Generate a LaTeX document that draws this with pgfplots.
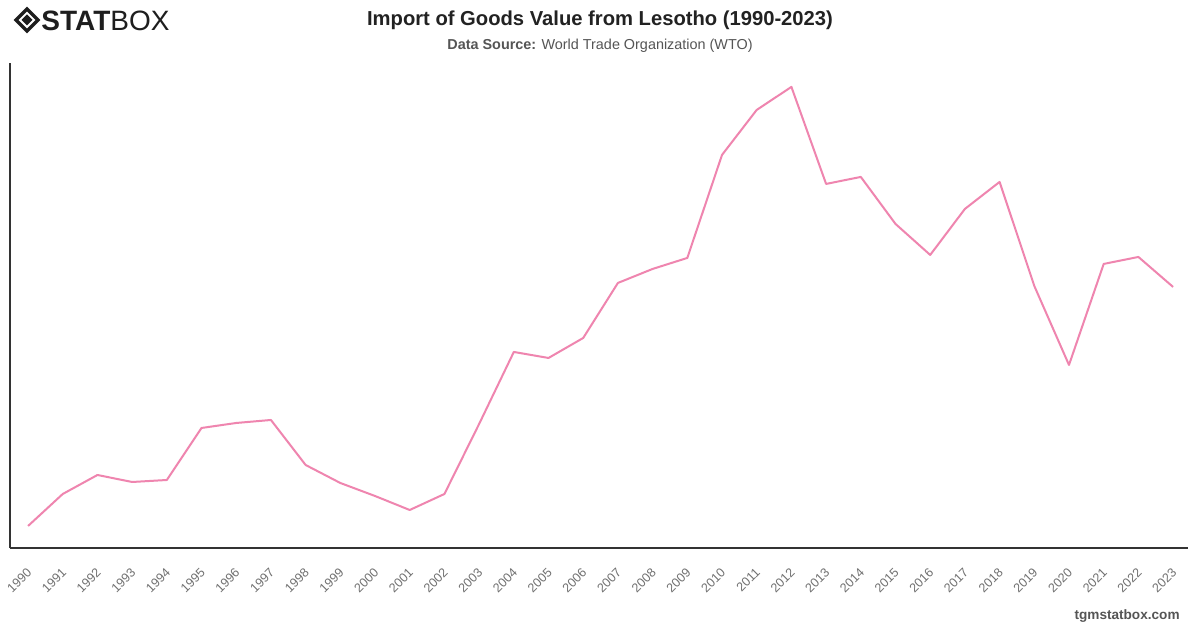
\documentclass[border=0pt]{standalone}
\usepackage{pgfplots}
\pgfplotsset{compat=1.18}
\usepackage{fontspec}
\setmainfont{Liberation Sans}
\definecolor{linepink}{HTML}{EF85AF}
\definecolor{axisdark}{HTML}{333333}
\definecolor{tickgray}{HTML}{707070}
\definecolor{titledark}{HTML}{222222}
\definecolor{subgray}{HTML}{555555}
\definecolor{logodark}{HTML}{1E1E1E}

\pgfplotstableread{
year value
1990 22
1991 54
1992 73
1993 66
1994 68
1995 120
1996 125
1997 128
1998 83
1999 65
2000 52
2001 38
2002 54
2003 124
2004 196
2005 190
2006 210
2007 265
2008 279
2009 290
2010 393
2011 438
2012 461
2013 364
2014 371
2015 324
2016 293
2017 339
2018 366
2019 262
2020 183
2021 284
2022 291
2023 261
}\importdata

\begin{document}
\begin{tikzpicture}[x=0.5pt,y=0.5pt]
\path[fill=white,use as bounding box] (0,0) rectangle (1200,628);

% logo
\begin{scope}[shift={(27,608)}]
  \draw[logodark,line width=1.6pt,line join=miter] (0,11) -- (11,0) -- (0,-11) -- (-11,0) -- cycle;
  \fill[logodark] (0,5.5) -- (5.5,0) -- (0,-5.5) -- (-5.5,0) -- cycle;
\end{scope}
\node[anchor=west,inner sep=0pt,text=logodark] at (41,607)
  {\fontsize{14}{14}\selectfont\textbf{STAT}BOX};

% titles
\node[text=titledark,inner sep=0pt] at (600,608)
  {\fontsize{10.1}{11}\selectfont\bfseries Import of Goods Value from Lesotho (1990-2023)};
\node[text=subgray,inner sep=0pt] at (600,582)
  {\fontsize{7.2}{8}\selectfont\textbf{Data Source:} World Trade Organization (WTO)};

% footer
\node[anchor=east,text=subgray,inner sep=0pt] at (1180,12)
  {\fontsize{6.8}{8}\selectfont\bfseries tgmstatbox.com};

\begin{axis}[
  at={(5pt,40pt)}, anchor=south west,
  scale only axis, width=589pt, height=242.5pt,
  xmin=1989.48, xmax=2023.43,
  ymin=0, ymax=485,
  axis x line=bottom, axis y line=left,
  axis line style={-,axisdark,line width=0.7pt},
  xtick={1990,...,2023},
  ytick=\empty,
  major tick length=0pt,
  /pgf/number format/.cd, 1000 sep={}, assume math mode=true, /pgfplots/.cd,
  xticklabel style={rotate=45, anchor=north east, text=tickgray,
    font=\fontsize{6.3}{7}\selectfont, inner sep=0pt, xshift=-7.4pt, yshift=-6pt},
  clip=false,
]
\addplot[linepink, line width=1pt, line join=round] table[x=year,y=value] {\importdata};
\end{axis}
\end{tikzpicture}
\end{document}
